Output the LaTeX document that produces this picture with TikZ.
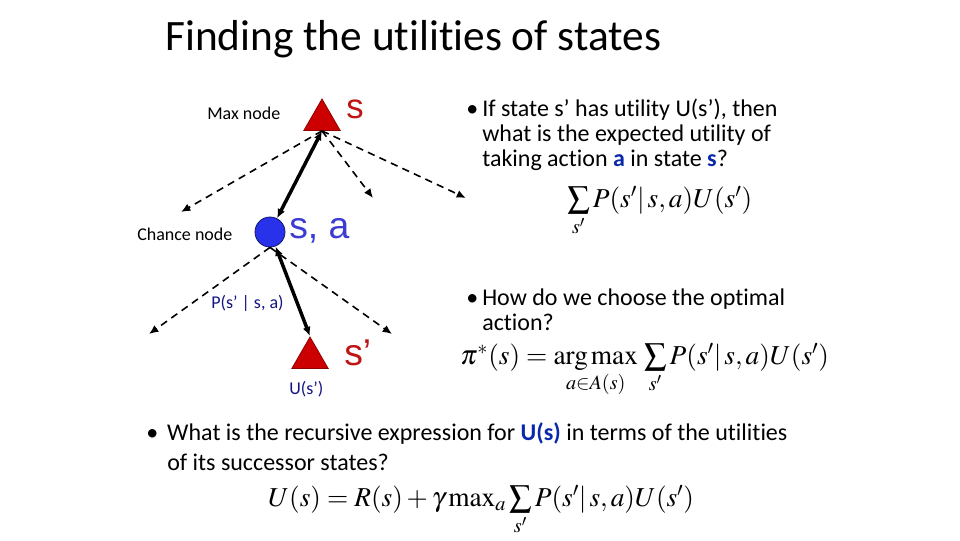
\documentclass[tikz,border=0pt]{standalone}
\usepackage{mathptmx}
\usepackage{fontspec}
\setmainfont{Carlito}[Ligatures=NoCommon]
\newfontfamily\arialfont{Liberation Sans}
\usetikzlibrary{arrows.meta,shapes.geometric}
\definecolor{stred}{RGB}{204,0,0}
\definecolor{stredtext}{RGB}{190,20,20}
\definecolor{chblue}{RGB}{40,50,235}
\definecolor{chbluetext}{RGB}{60,60,210}
\definecolor{navy}{RGB}{20,20,130}
\definecolor{kwblue}{RGB}{10,40,170}
\newcommand\midsum{\mathop{\vcenter{\hbox{\fontsize{16.5}{18}\selectfont$\displaystyle\sum$}}}\limits}

\begin{document}
\begin{tikzpicture}[
  x=0.75pt, y=-0.75pt, >=Latex,
  maxnode/.style={regular polygon,regular polygon sides=3,fill=stred,
    draw=stred!70!black,line width=.6pt,minimum size=31.5pt,inner sep=0pt},
  chancenode/.style={circle,fill=chblue,draw=chblue!45!black,line width=.6pt,
    minimum size=22.5pt,inner sep=0pt},
  sidelabel/.style={anchor=west,inner sep=0pt,font=\fontsize{13.5}{15}\selectfont},
  statelabel/.style={anchor=west,inner sep=0pt,font=\arialfont\fontsize{28}{30}\selectfont},
  problabel/.style={anchor=west,inner sep=0pt,text=navy,font=\fontsize{13.5}{15}\selectfont},
  bullettext/.style={anchor=base west,align=left,inner sep=0pt,
    font=\fontsize{18}{18.75}\selectfont},
  formula/.style={anchor=base west,inner sep=0pt,font=\fontsize{20.5}{24}\selectfont},
  bothtips/.style={{Latex[length=7pt,width=6pt]}-{Latex[length=7pt,width=6pt]},line width=2.6pt},
  dasharr/.style={-{Latex[length=7pt,width=6pt]},line width=1.2pt,dash pattern=on 5.5pt off 4pt}
]
\useasboundingbox (0,0) rectangle (960,540);

\node[anchor=base west,inner sep=0pt,font=\fontsize{32.5}{38}\selectfont] (title) at (165,50)
 {Finding the utilities of states};

\node[maxnode] (top) at (322,120) {};
\node[chancenode] (chance) at (270,232) {};
\node[maxnode] (succ) at (310,358) {};

\node[sidelabel] (maxlbl) at (207,113) {Max node};
\node[sidelabel] (chancelbl) at (137,234) {Chance node};
\node[statelabel,text=stredtext,font=\arialfont\fontsize{26}{28}\selectfont] (slbl) at (346,109) {s};
\node[statelabel,text=chbluetext] (salbl) at (289,231) {s, a};
\node[statelabel,text=stredtext] (sprimelbl) at (344,353) {s’};
\node[problabel] (plbl) at (211,303) {P(s’ | s, a)};
\node[problabel] (ulbl) at (289,389) {U(s’)};

\coordinate (a1) at (181,212);
\coordinate (a2) at (373,198);
\coordinate (a3) at (466,198);
\coordinate (o1) at (149,334);
\coordinate (o2) at (392,334);

\draw[dasharr] (top.side 2) -- (a1);
\draw[dasharr] (top.side 2) -- (a2);
\draw[dasharr] (top.side 2) -- (a3);
\draw[bothtips] (top.side 2) -- (chance);
\draw[dasharr] (chance.south) -- (o1);
\draw[dasharr] (chance.south) -- (o2);
\draw[bothtips] (chance) -- (succ.corner 1);

\node[bullettext] (q1) at (466,166)
 {\makebox[12pt][l]{•}If state s’ has utility U(s’), then\\
  \hspace*{12pt}what is the expected utility of\\
  \hspace*{12pt}taking action \textbf{\color{kwblue}a} in state \textbf{\color{kwblue}s}?};
\node[formula] (f1) at (567,207)
 {$\midsum_{s'} P(s'|\,s,a)U(s')$};

\node[bullettext] (q2) at (466,330)
 {\makebox[12pt][l]{•}How do we choose the optimal\\
  \hspace*{12pt}action?};
\node[formula] (f2) at (460,364)
 {$\pi^*(s)=\mathop{\arg\max}\limits_{a\in A(s)}\,\midsum_{s'}P(s'|\,s,a)U(s')$};

\node[bullettext,font=\fontsize{18}{22}\selectfont] (q3) at (146,470)
 {\makebox[15.75pt][l]{•}What is the recursive expression for \textbf{\color{kwblue}U(s)} in terms of the utilities\\
  \hspace*{15.75pt}of its successor states?};
\node[formula] (f3) at (268,506)
 {$U(s)=R(s)+\gamma\max\nolimits_a\midsum_{s'}P(s'|\,s,a)U(s')$};
\end{tikzpicture}
\end{document}
